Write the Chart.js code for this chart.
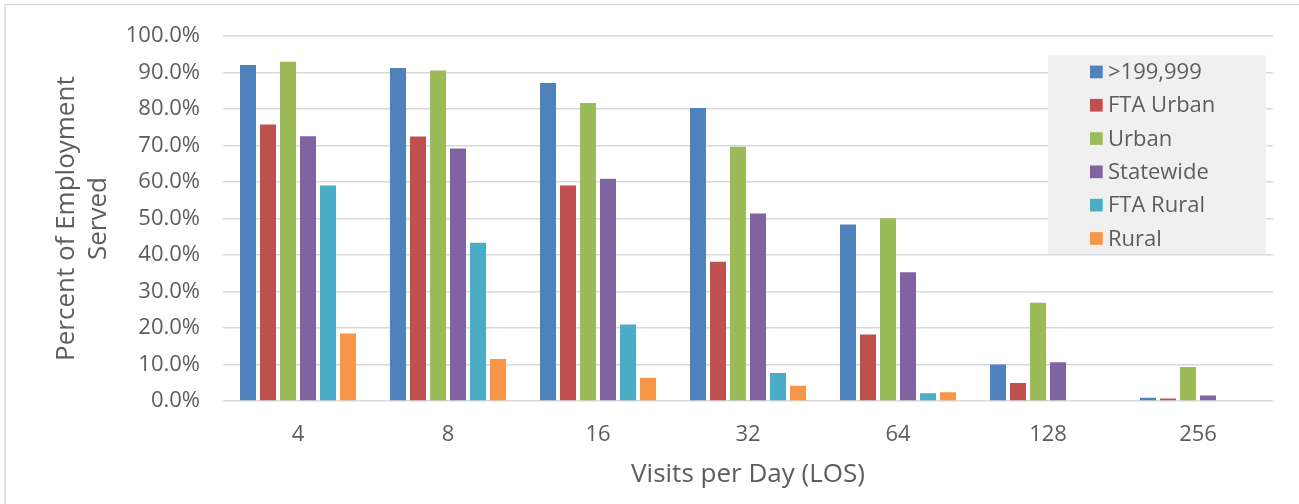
<!DOCTYPE html>
<html>
<head>
<meta charset="utf-8">
<title>Percent of Employment Served by Visits per Day</title>
<script src="https://cdn.jsdelivr.net/npm/chart.js@4.4.1/dist/chart.umd.min.js"></script>
<style>
  html, body { margin: 0; padding: 0; background: #ffffff; }
  #wrap { width: 1299px; height: 504px; }
  canvas { display: block; }
</style>
</head>
<body>
<div id="wrap"><canvas id="chart" width="1299" height="504"></canvas></div>
<script>
// Level-of-service categories (visits per day)
const categories = ['4', '8', '16', '32', '64', '128', '256'];

// Series names, in legend order
const seriesNames = ['>199,999', 'FTA Urban', 'Urban', 'Statewide', 'FTA Rural', 'Rural'];

// Percent of employment served, per series
const over199999 = [92.1, 91.3, 87.2, 80.3, 48.4, 10.0, 0.9];
const ftaUrban   = [75.8, 72.5, 59.1, 38.2, 18.2, 4.9, 0.7];
const urban      = [93.0, 90.6, 81.7, 69.7, 50.1, 26.9, 9.3];
const statewide  = [72.6, 69.2, 60.9, 51.4, 35.3, 10.6, 1.5];
const ftaRural   = [59.1, 43.4, 21.0, 7.7, 2.1, 0.2, 0.0];
const rural      = [18.5, 11.5, 6.4, 4.2, 2.4, 0.0, 0.0];

// Axis range and titles
const yMin = 0;
const yMax = 100;
const yStep = 10;
const yTitle = ['Percent of Employment', 'Served'];
const xTitle = 'Visits per Day (LOS)';

const seriesValues = [over199999, ftaUrban, urban, statewide, ftaRural, rural];
const seriesColors = ['#4F81BD', '#C0504D', '#9BBB59', '#8064A2', '#4BACC6', '#F79646'];

const FONT = "'Open Sans', 'DejaVu Sans', sans-serif";
const TEXT = '#5d5d5d';
const GRID = '#d9d9d9';

// Light frame around the whole chart
const framePlugin = {
  id: 'frame',
  beforeDraw(chart) {
    const ctx = chart.ctx;
    ctx.save();
    ctx.fillStyle = '#ffffff';
    ctx.fillRect(0, 0, chart.width, chart.height);
    ctx.strokeStyle = GRID;
    ctx.lineWidth = 1.5;
    ctx.strokeRect(5, 4.5, chart.width + 10, chart.height - 2);
    ctx.restore();
  }
};

// Legend box drawn inside the plot, top right
const boxLegendPlugin = {
  id: 'boxLegend',
  afterDraw(chart) {
    const ctx = chart.ctx;
    const area = chart.chartArea;
    const x0 = area.right - 225, y0 = area.top + 19, w = 218, h = 199;
    ctx.save();
    ctx.fillStyle = '#f0f0f0';
    ctx.fillRect(x0, y0, w, h);
    ctx.font = '22px ' + FONT;
    ctx.textBaseline = 'middle';
    ctx.textAlign = 'left';
    chart.data.datasets.forEach((ds, i) => {
      const cy = y0 + 16.7 + i * 33.3;
      ctx.fillStyle = ds.backgroundColor;
      ctx.fillRect(x0 + 42, cy - 6.3, 12.7, 12.7);
      ctx.fillStyle = TEXT;
      ctx.fillText(ds.label, x0 + 60, cy + 1);
    });
    ctx.restore();
  }
};

new Chart(document.getElementById('chart'), {
  type: 'bar',
  data: {
    labels: categories,
    datasets: seriesNames.map((name, i) => ({
      label: name,
      data: seriesValues[i],
      backgroundColor: seriesColors[i],
      borderWidth: 0,
      categoryPercentage: 0.8,
      barPercentage: 0.8
    }))
  },
  options: {
    responsive: false,
    animation: false,
    devicePixelRatio: 1,
    layout: { padding: { left: 0, right: 26, top: 30, bottom: 0 } },
    plugins: {
      legend: { display: false },
      tooltip: { enabled: false }
    },
    scales: {
      x: {
        grid: { display: false, drawTicks: false },
        border: { display: false },
        ticks: { color: TEXT, font: { family: FONT, size: 22 }, padding: 21 },
        title: {
          display: true,
          text: xTitle,
          color: TEXT,
          font: { family: FONT, size: 26 },
          padding: { top: 0, bottom: 14 }
        },
        afterFit(scale) { scale.height = 103; }
      },
      y: {
        min: yMin,
        max: yMax,
        grid: { color: GRID, lineWidth: 1.5, drawTicks: false },
        border: { display: false },
        ticks: {
          stepSize: yStep,
          color: TEXT,
          font: { family: FONT, size: 22 },
          padding: 23,
          callback: (v) => v.toFixed(1) + '%'
        },
        title: {
          display: true,
          text: yTitle,
          color: TEXT,
          font: { family: FONT, size: 26, lineHeight: '32px' },
          padding: { top: 51, bottom: 0 }
        },
        afterFit(scale) { scale.width = 223; }
      }
    }
  },
  plugins: [framePlugin, boxLegendPlugin]
});
</script>
</body>
</html>
